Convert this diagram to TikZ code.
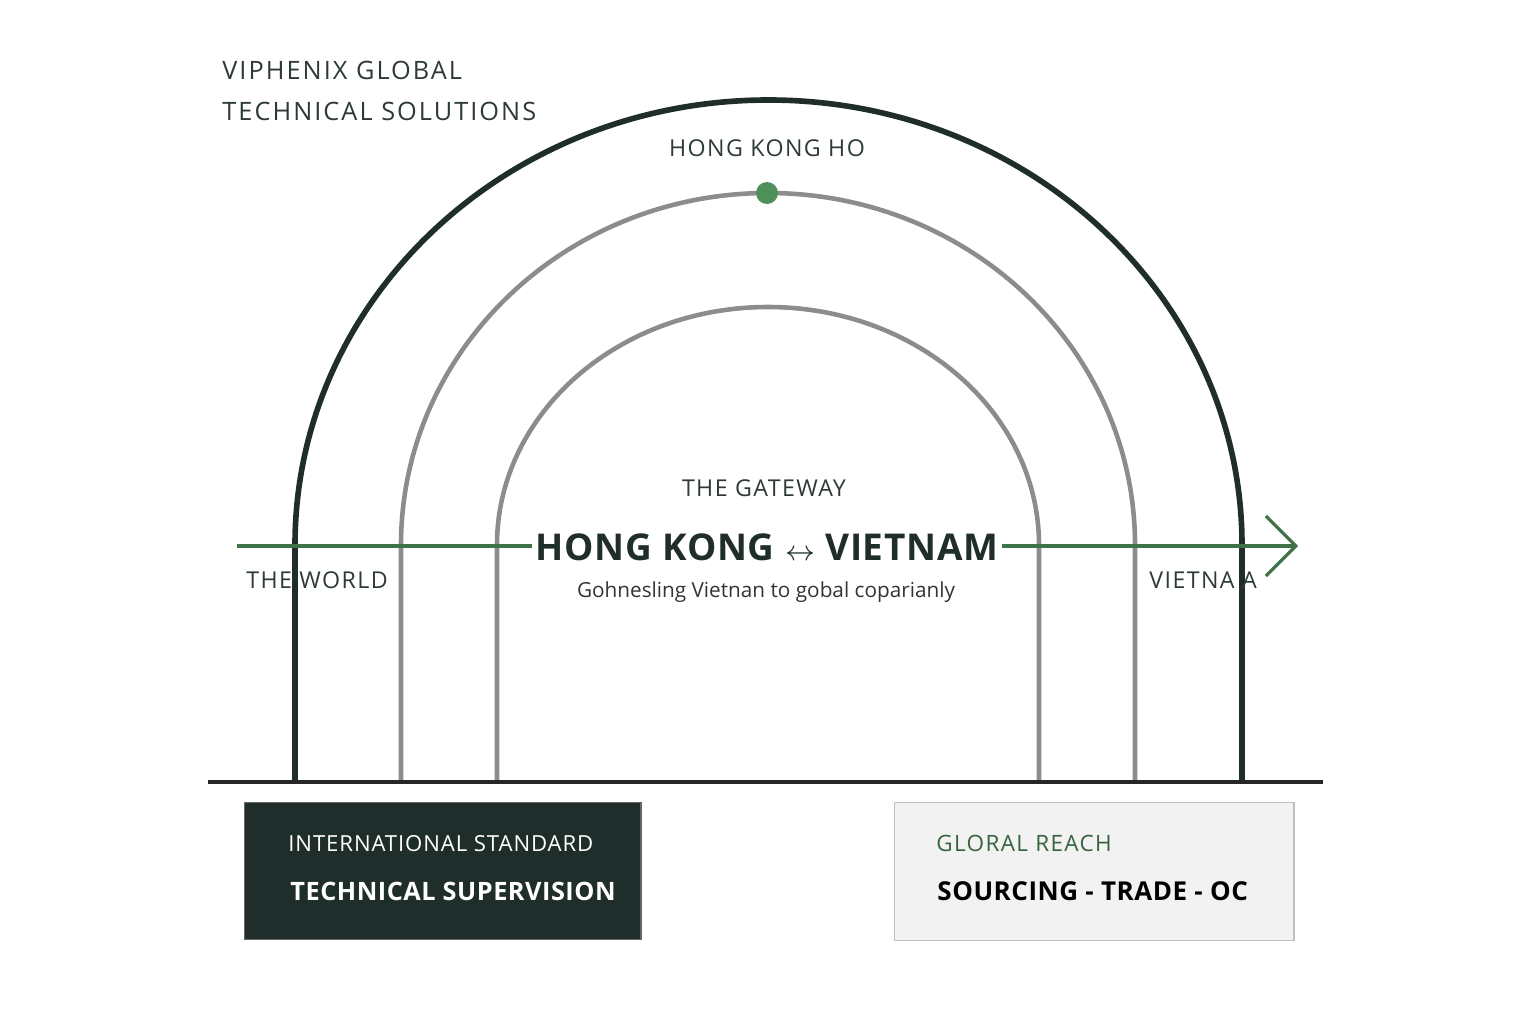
\documentclass[tikz,border=0pt]{standalone}
\usepackage{fontspec}
\setmainfont{Open Sans}
\usetikzlibrary{arrows.meta}
\definecolor{darkgreen}{HTML}{1F2E2A}
\definecolor{leafgreen}{HTML}{4E8F5A}
\definecolor{archgray}{HTML}{8C8C8C}
\tikzset{
  label/.style={text=darkgreen!85!gray, font=\fontsize{6.6}{8}\selectfont\addfontfeature{LetterSpace=6}},
  arch/.style={line width=1.3pt, archgray}
}
\begin{document}
\begin{tikzpicture}[x=0.01cm,y=-0.01cm]
\useasboundingbox (0,0) rectangle (1536,1024);
% arches
\draw[line width=1.6pt, darkgreen] (295,782) -- (295,545) arc[start angle=180,end angle=360,x radius=473.5,y radius=445] -- (1242,782);
\draw[arch] (401,782) -- (401,545) arc[start angle=180,end angle=360,x radius=367,y radius=352] -- (1135,782);
\draw[arch] (497,782) -- (497,545) arc[start angle=180,end angle=360,x radius=271,y radius=238] -- (1039,782);
\fill[leafgreen] (767,193) circle (11);
% ground and axis
\coordinate (gl) at (208,782);
\coordinate (gr) at (1323,782);
\draw[line width=0.9pt, black!85] (gl) -- (gr);
\coordinate (al) at (237,546);
\coordinate (ar) at (1298,546);
\draw[leafgreen!80!black, line width=0.9pt, -{Straight Barb[length=8.5pt,width=17pt,line width=0.9pt]}] (al) -- (ar);
% texts
\node[label, anchor=west, font=\fontsize{7.2}{8}\selectfont\addfontfeature{LetterSpace=8}] (brand1) at (210,70) {VIPHENIX GLOBAL};
\node[label, anchor=west, font=\fontsize{7.2}{8}\selectfont\addfontfeature{LetterSpace=8}] (brand2) at (210,111) {TECHNICAL SOLUTIONS};
\node[label] (hq) at (767,148) {HONG KONG HO};
\node[label] (gate) at (764,488) {THE GATEWAY};
\node[fill=white, inner sep=1pt, text=darkgreen, font=\bfseries\fontsize{10.5}{12}\selectfont\addfontfeature{LetterSpace=2}] (main) at (767,547) {HONG KONG {\normalfont\fontsize{8}{9}\selectfont$\leftrightarrow$} VIETNAM};
\node[text=black!80, font=\fontsize{5.9}{8}\selectfont] (sub) at (766,592) {Gohnesling Vietnan to gobal coparianly};
\node[label, anchor=west] (world) at (234,580) {THE WORLD};
\node[label, anchor=west] (viet) at (1137,580) {VIETNA A};
% boxes
\node[draw=black!60, fill=darkgreen, minimum width=3.96cm, minimum height=1.37cm, anchor=north west] (boxL) at (244,802) {};
\node[text=white, anchor=west, font=\fontsize{6.3}{8}\selectfont\addfontfeature{LetterSpace=4}] (stdL) at (276,844) {INTERNATIONAL STANDARD};
\node[text=white, anchor=west, font=\bfseries\fontsize{7.2}{9}\selectfont\addfontfeature{LetterSpace=2}] (supL) at (278,891) {TECHNICAL SUPERVISION};
\node[draw=black!25, fill=black!5, minimum width=3.99cm, minimum height=1.38cm, anchor=north west] (boxR) at (894,802) {};
\node[text=leafgreen!70!black, anchor=west, font=\fontsize{6.4}{8}\selectfont\addfontfeature{LetterSpace=6}] (reach) at (924,843) {GLORAL REACH};
\node[text=black, anchor=west, font=\bfseries\fontsize{7.4}{9}\selectfont\addfontfeature{LetterSpace=2}] (trade) at (925,891) {SOURCING - TRADE - OC};
\end{tikzpicture}
\end{document}
